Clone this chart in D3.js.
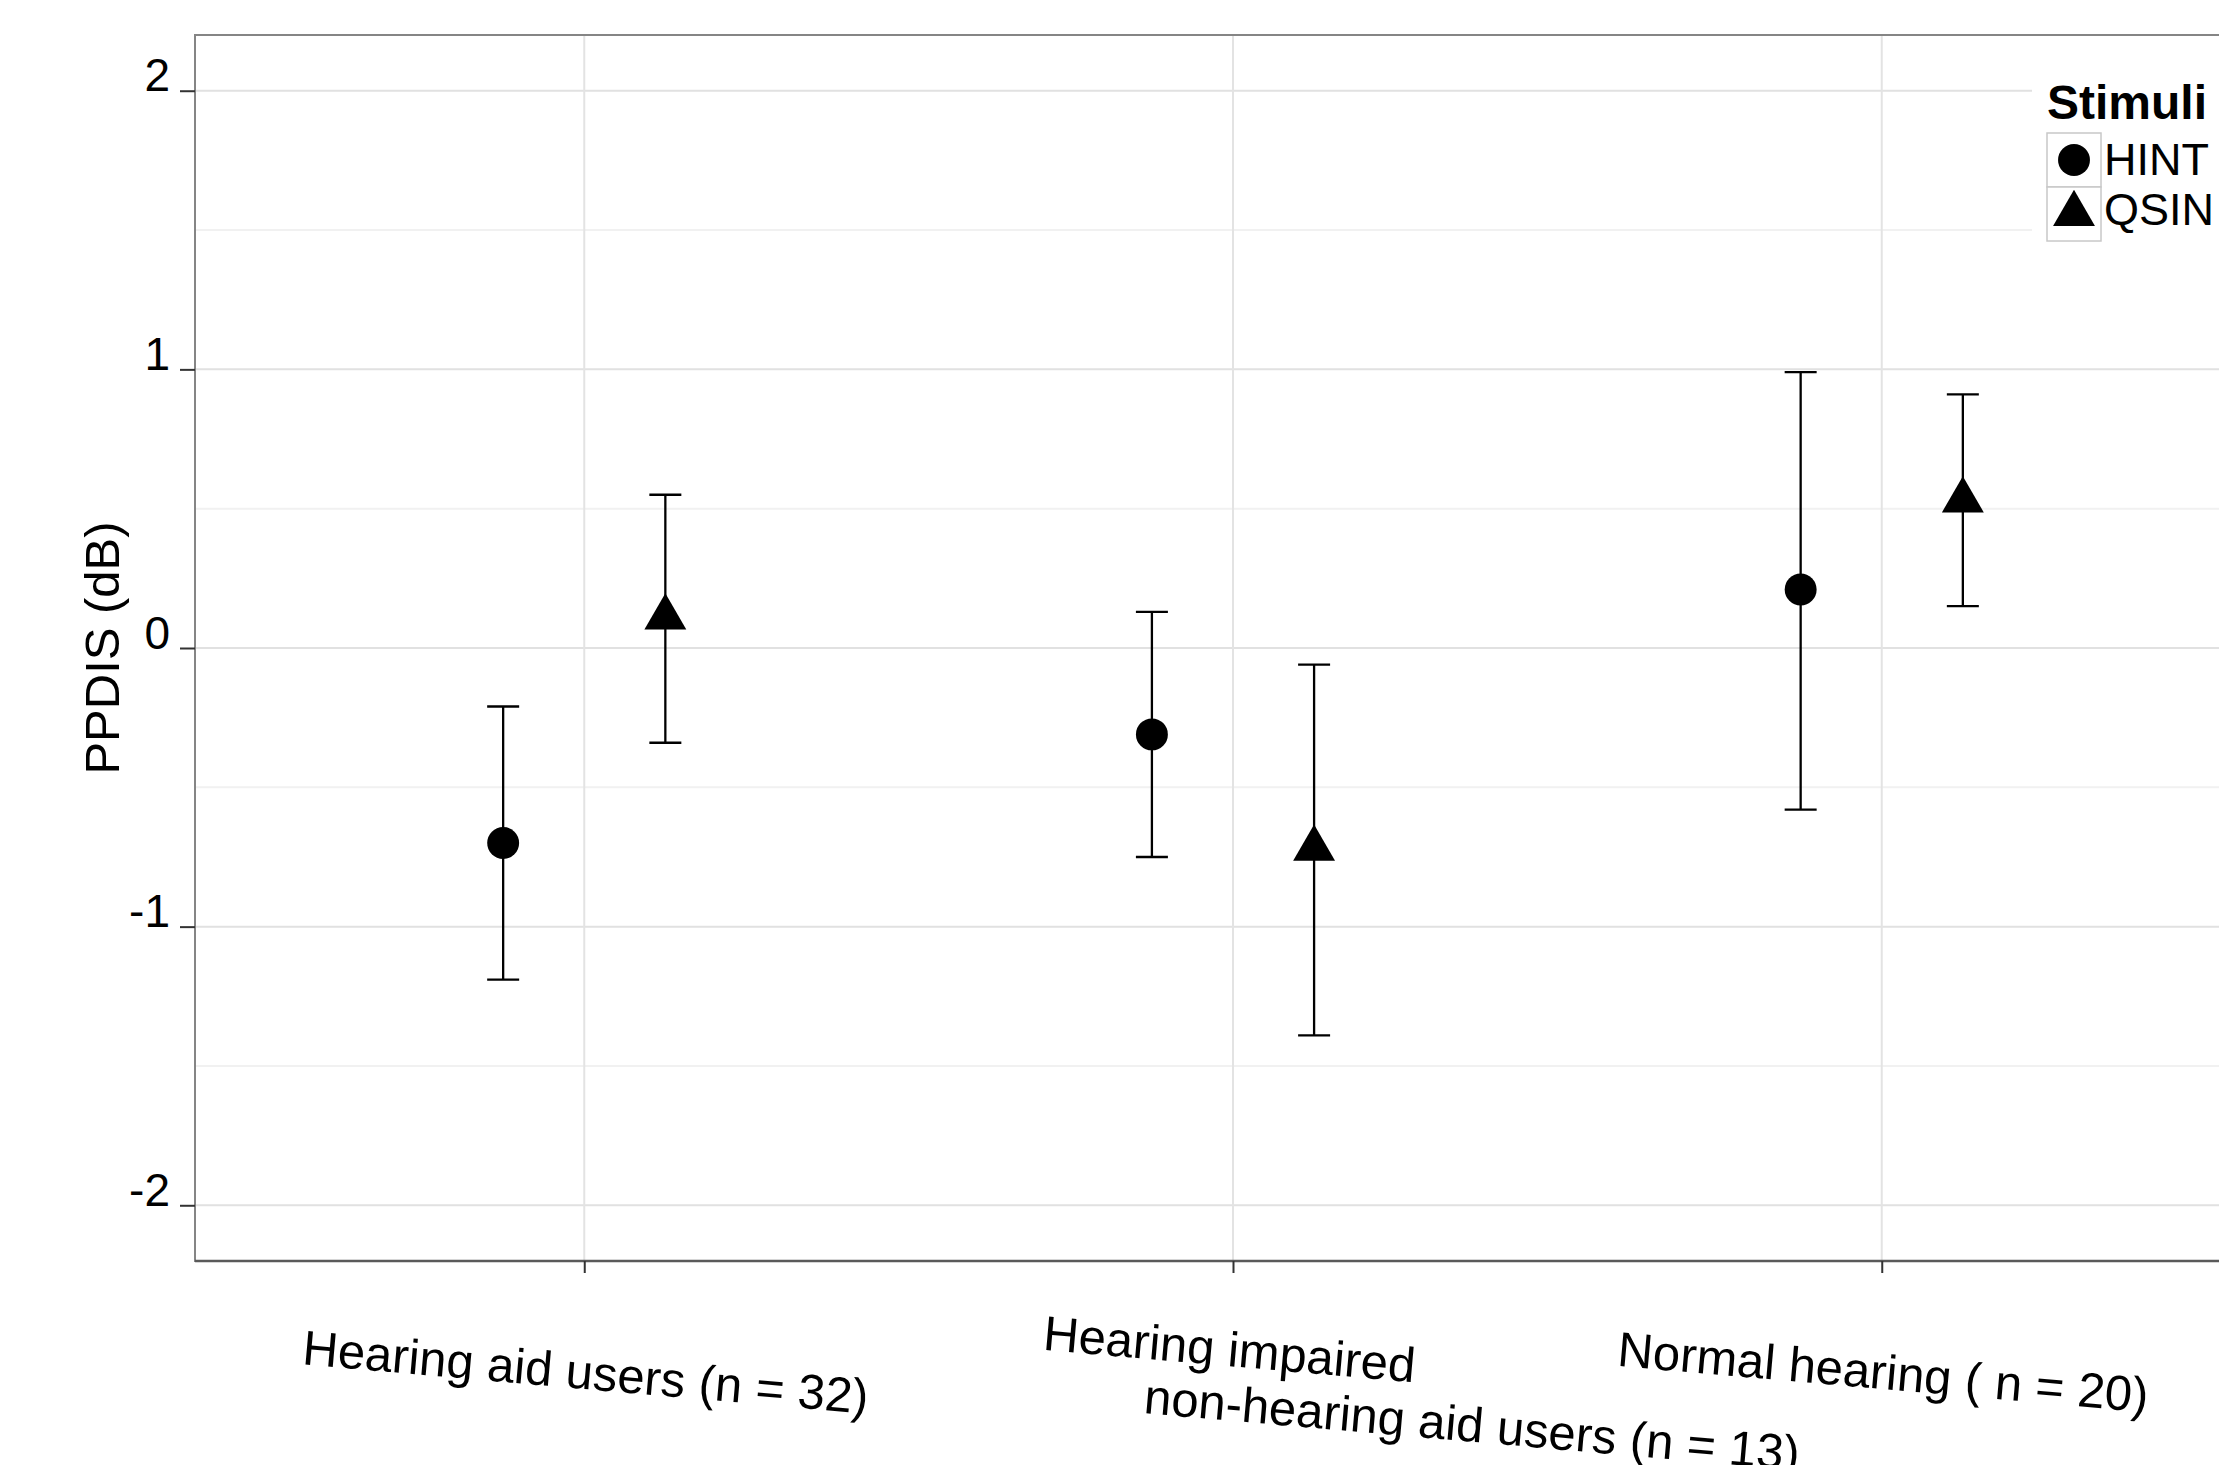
<!DOCTYPE html>
<html lang="en">
<head>
<meta charset="UTF-8">
<title>PPDIS by group</title>
<style>
    body { margin: 0; background: #fff; }
    text { font-family: "Liberation Sans", Arial, sans-serif; fill: #000; }
</style>
</head>
<body>
<script src="https://d3js.org/d3.v7.min.js"></script>
<script>

    // groups on the x axis, "|" marks the line break
    var groups = ["Hearing aid users (n = 32)",
                  "Hearing impaired|non-hearing aid users (n = 13)",
                  "Normal hearing ( n = 20)"];
    var stimuli = ["HINT", "QSIN"];

    // means and error bar limits (dB)
    var hintMean = [-0.70, -0.31, 0.21];
    var hintLow  = [-1.19, -0.75, -0.58];
    var hintHigh = [-0.21, 0.13, 0.99];

    var qsinMean = [0.11, -0.72, 0.53];
    var qsinLow  = [-0.34, -1.39, 0.15];
    var qsinHigh = [0.55, -0.06, 0.91];

    var yTicks = [-2, -1, 0, 1, 2];
    var yTickLabels = ["-2", "-1", "0", "1", "2"];
    var yMinor = [-1.5, -0.5, 0.5, 1.5];

    var width = 2219,
        height = 1465,
        panelLeft = 195,
        panelTop = 35,
        panelRight = 2271,   // panel runs past the edge of the picture
        panelBottom = 1261;

    var rows = [];
    groups.forEach(function (g, i) {
        rows.push({group: g, stim: "HINT", mean: hintMean[i], lo: hintLow[i], hi: hintHigh[i]});
        rows.push({group: g, stim: "QSIN", mean: qsinMean[i], lo: qsinLow[i], hi: qsinHigh[i]});
    });

    var svg = d3.select("body")
        .append("svg")
        .attr("width", width)
        .attr("height", height);

    svg.append("rect")
        .attr("width", width)
        .attr("height", height)
        .attr("fill", "#fff");

    var x = d3.scalePoint()
        .domain(groups)
        .range([panelLeft, panelRight])
        .padding(0.6);

    var dodge = d3.scalePoint()
        .domain(stimuli)
        .range([-x.step() * 0.125, x.step() * 0.125]);

    var y = d3.scaleLinear()
        .domain([-2.2, 2.2])
        .range([panelBottom, panelTop]);

    var shape = d3.scaleOrdinal()
        .domain(stimuli)
        .range([d3.symbolCircle, d3.symbolTriangle]);
    var shapeSize = d3.scaleOrdinal()
        .domain(stimuli)
        .range([800, 760]);

    // grid
    var grid = svg.append("g");
    grid.selectAll(".minor")
        .data(yMinor)
        .enter()
        .append("line")
        .attr("x1", panelLeft).attr("x2", panelRight)
        .attr("y1", function (d) { return y(d); })
        .attr("y2", function (d) { return y(d); })
        .attr("stroke", "#f1f1f1")
        .attr("stroke-width", 2);
    grid.selectAll(".major")
        .data(yTicks)
        .enter()
        .append("line")
        .attr("x1", panelLeft).attr("x2", panelRight)
        .attr("y1", function (d) { return y(d); })
        .attr("y2", function (d) { return y(d); })
        .attr("stroke", "#e1e1e1")
        .attr("stroke-width", 2);
    grid.selectAll(".vert")
        .data(groups)
        .enter()
        .append("line")
        .attr("x1", function (d) { return x(d); })
        .attr("x2", function (d) { return x(d); })
        .attr("y1", panelTop).attr("y2", panelBottom)
        .attr("stroke", "#e3e3e3")
        .attr("stroke-width", 2);

    // panel border
    svg.append("rect")
        .attr("x", panelLeft)
        .attr("y", panelTop)
        .attr("width", panelRight - panelLeft)
        .attr("height", panelBottom - panelTop)
        .attr("fill", "none")
        .attr("stroke", "#858585")
        .attr("stroke-width", 2);
    svg.append("line")
        .attr("x1", panelLeft).attr("x2", panelRight)
        .attr("y1", panelBottom).attr("y2", panelBottom)
        .attr("stroke", "#5a5a5a")
        .attr("stroke-width", 2.5);

    // y axis
    var yAxis = svg.append("g")
        .attr("transform", "translate(" + panelLeft + ",0)")
        .call(d3.axisLeft(y)
            .tickValues(yTicks)
            .tickSize(15)
            .tickPadding(10)
            .tickFormat(function (d, i) { return yTickLabels[i]; }));
    yAxis.select(".domain").remove();
    yAxis.selectAll(".tick line").attr("stroke", "#333").attr("stroke-width", 2);
    yAxis.selectAll(".tick text")
        .attr("dy", "0")
        .attr("font-size", "46px")
        .attr("font-family", "Liberation Sans, Arial, sans-serif")
        .attr("fill", "#000");

    // x axis ticks only, labels drawn below
    var xAxis = svg.append("g")
        .attr("transform", "translate(0," + panelBottom + ")")
        .call(d3.axisBottom(x).tickSize(12).tickFormat(""));
    xAxis.select(".domain").remove();
    xAxis.selectAll(".tick line").attr("stroke", "#333").attr("stroke-width", 2);

    var labels = svg.append("g");
    groups.forEach(function (g) {
        var lines = g.split("|");
        if (lines.length == 1) {
            labels.append("text")
                .attr("transform", "translate(" + x(g) + "," + (panelBottom + 128) + ") rotate(5)")
                .attr("text-anchor", "middle")
                .attr("font-size", "49px")
                .text(lines[0]);
        } else {
            labels.append("text")
                .attr("transform", "translate(" + (x(g) - 5) + "," + (panelBottom + 105) + ") rotate(5)")
                .attr("text-anchor", "middle")
                .attr("font-size", "49px")
                .text(lines[0]);
            labels.append("text")
                .attr("transform", "translate(" + (x(g) - 90) + "," + (panelBottom + 152) + ") rotate(5)")
                .attr("text-anchor", "start")
                .attr("font-size", "49px")
                .text(lines[1]);
        }
    });

    // y title
    svg.append("text")
        .attr("transform", "translate(119," + y(0) + ") rotate(-90)")
        .attr("text-anchor", "middle")
        .attr("font-size", "49px")
        .text("PPDIS (dB)");

    // error bars
    var cap = 16;
    var bars = svg.append("g").selectAll("g")
        .data(rows)
        .enter()
        .append("g")
        .attr("stroke", "#000")
        .attr("stroke-width", 2.3);
    bars.append("line")
        .attr("x1", function (d) { return x(d.group) + dodge(d.stim); })
        .attr("x2", function (d) { return x(d.group) + dodge(d.stim); })
        .attr("y1", function (d) { return y(d.lo); })
        .attr("y2", function (d) { return y(d.hi); });
    bars.append("line")
        .attr("x1", function (d) { return x(d.group) + dodge(d.stim) - cap; })
        .attr("x2", function (d) { return x(d.group) + dodge(d.stim) + cap; })
        .attr("y1", function (d) { return y(d.hi); })
        .attr("y2", function (d) { return y(d.hi); });
    bars.append("line")
        .attr("x1", function (d) { return x(d.group) + dodge(d.stim) - cap; })
        .attr("x2", function (d) { return x(d.group) + dodge(d.stim) + cap; })
        .attr("y1", function (d) { return y(d.lo); })
        .attr("y2", function (d) { return y(d.lo); });

    // points
    svg.append("g").selectAll("path")
        .data(rows)
        .enter()
        .append("path")
        .attr("transform", function (d) {
            return "translate(" + (x(d.group) + dodge(d.stim)) + "," + y(d.mean) + ")";
        })
        .attr("d", function (d) {
            return d3.symbol().type(shape(d.stim)).size(shapeSize(d.stim))();
        })
        .attr("fill", "#000");

    // legend
    var legend = svg.append("g");
    legend.append("rect")
        .attr("x", 2032)
        .attr("y", 50)
        .attr("width", 220)
        .attr("height", 205)
        .attr("fill", "#fff");
    legend.append("text")
        .attr("x", 2047)
        .attr("y", 119)
        .attr("font-size", "48px")
        .attr("font-weight", "bold")
        .text("Stimuli");
    var key = legend.selectAll(".key")
        .data(stimuli)
        .enter()
        .append("g")
        .attr("transform", function (d, i) { return "translate(2047," + (133 + i * 54) + ")"; });
    key.append("rect")
        .attr("width", 54)
        .attr("height", 54)
        .attr("fill", "#fff")
        .attr("stroke", "#c8c8c8")
        .attr("stroke-width", 1.5);
    key.append("path")
        .attr("transform", "translate(27,27)")
        .attr("d", function (d) {
            return d3.symbol().type(shape(d)).size(shapeSize(d))();
        })
        .attr("fill", "#000");
    key.append("text")
        .attr("x", 57)
        .attr("y", function (d, i) { return i == 0 ? 42 : 38; })
        .attr("font-size", "45px")
        .text(function (d) { return d; });

</script>
</body>
</html>
